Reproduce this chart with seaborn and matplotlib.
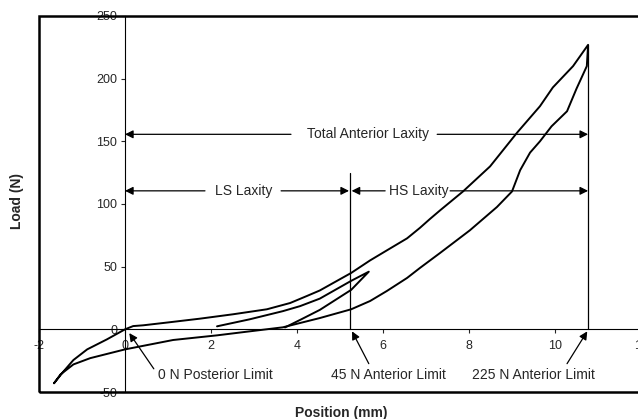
import numpy as np
import pandas as pd
import matplotlib
matplotlib.use('Agg')
import matplotlib.pyplot as plt
import seaborn as sns
from matplotlib.patches import Rectangle

# main hysteresis loop: loading branch (tip -> peak)
load_x = [-1.65, -1.44, -1.2, -0.88, -0.42, 0.0, 0.19, 0.42, 1.0, 1.74, 2.51, 3.3,
          3.84, 4.23, 4.53, 5.26, 5.7, 6.09, 6.56, 6.86, 7.09, 7.33, 7.86, 8.49,
          9.12, 9.65, 9.95, 10.42, 10.77]
load_y = [-43, -34, -24.5, -16, -8, 0, 2.6, 3.2, 5.5, 8.5, 12, 16,
          21, 26.6, 31, 45, 55, 63, 72.6, 81, 88, 95, 110, 130,
          157, 178, 193, 210, 227]

# unloading branch (peak -> tip)
unload_x = [10.77, 10.74, 10.5, 10.28, 9.92, 9.65, 9.42, 9.19, 9.0, 8.65, 8.02,
            7.33, 6.86, 6.56, 6.09, 5.7, 5.26, 4.53, 3.67, 2.9, 2.14, 1.12, 0.0,
            -0.81, -1.2, -1.5, -1.65]
unload_y = [227, 210, 192, 174, 162, 150, 141, 127, 110, 97.6, 79,
            61, 49, 41, 30.6, 22.6, 16, 9, 1.6, -1.6, -4.8, -8.5, -16,
            -23, -28, -36, -43]

# small inner loop
inner_x = [2.14, 2.9, 3.67, 4.07, 4.53, 5.26, 5.67, 5.26, 4.53, 4.1, 3.72]
inner_y = [2.4, 8, 14.5, 18.5, 24.5, 38.7, 46, 31.5, 15.5, 8, 1.5]

# annotation values
limit_x = [0.0, 5.23, 10.77]          # 0 N, 45 N, 225 N limits (mm)
limit_labels = ['0 N Posterior Limit', '45 N Anterior Limit', '225 N Anterior Limit']
total_y = 155.6
ls_hs_y = 110.5
x_ticks = [-2, 0, 2, 4, 6, 8, 10, 12]
y_ticks = [-50, 0, 50, 100, 150, 200, 250]

sns.set_style('white')
plt.rcParams['font.family'] = ['Liberation Sans', 'DejaVu Sans']
plt.rcParams['axes.unicode_minus'] = False

fig = plt.figure(figsize=(6.38, 4.19), dpi=100)
ax = fig.add_axes([39 / 638, 27 / 419, 602 / 638, 376 / 419])

main = pd.DataFrame({'x': load_x + unload_x[1:], 'y': load_y + unload_y[1:]})
inner = pd.DataFrame({'x': inner_x, 'y': inner_y})
sns.lineplot(data=main, x='x', y='y', sort=False, estimator=None, color='k', lw=1.4, ax=ax)
sns.lineplot(data=inner, x='x', y='y', sort=False, estimator=None, color='k', lw=1.4, ax=ax)

ax.set_xlim(-2, 12)
ax.set_ylim(-50, 250)
ax.set_xticks(x_ticks)
ax.set_yticks(y_ticks)
ax.set_xlabel('')
ax.set_ylabel('')

# axes crossing at zero
for s in ['top', 'right']:
    ax.spines[s].set_visible(False)
ax.spines['left'].set_position(('data', 0))
ax.spines['bottom'].set_position(('data', 0))
for s in ['left', 'bottom']:
    ax.spines[s].set_linewidth(0.8)
    ax.spines[s].set_color('k')
ax.tick_params(axis='y', direction='out', length=3, width=0.8, pad=2.5, labelsize=9, left=True)
ax.tick_params(axis='x', direction='out', length=3, width=0.8, pad=4.5, labelsize=9, bottom=True)

# outer frame
ax.add_patch(Rectangle((0, 0), 1, 1, transform=ax.transAxes, fill=False,
                       lw=1.8, ec='k', clip_on=False, zorder=5))

# vertical limit lines
ax.plot([limit_x[1], limit_x[1]], [0, 125], color='k', lw=0.9)
ax.plot([limit_x[2], limit_x[2]], [0, 227], color='k', lw=0.9)

arrow = dict(arrowstyle='-|>', color='k', lw=0.9, mutation_scale=12, shrinkA=0, shrinkB=0)

def dim_arrow(x_from, x_to, y):
    ax.annotate('', xy=(x_to, y), xytext=(x_from, y), arrowprops=arrow)

# Total anterior laxity
dim_arrow(3.86, limit_x[0], total_y)
dim_arrow(7.26, limit_x[2], total_y)
ax.text(5.66, total_y, 'Total Anterior Laxity', ha='center', va='center', fontsize=10)

# LS laxity
dim_arrow(1.86, limit_x[0], ls_hs_y)
dim_arrow(3.63, limit_x[1] - 0.02, ls_hs_y)
ax.text(2.77, ls_hs_y, 'LS Laxity', ha='center', va='center', fontsize=10)

# HS laxity
dim_arrow(6.05, limit_x[1] + 0.04, ls_hs_y)
dim_arrow(7.56, limit_x[2], ls_hs_y)
ax.text(6.84, ls_hs_y, 'HS Laxity', ha='center', va='center', fontsize=10)

# limit callouts
ax.annotate('', xy=(0.1, -3), xytext=(0.67, -31.5), arrowprops=arrow)
ax.text(0.77, -36.3, limit_labels[0], ha='left', va='center', fontsize=10)
ax.annotate('', xy=(5.28, -1.6), xytext=(5.67, -27.4), arrowprops=arrow)
ax.text(6.12, -36.3, limit_labels[1], ha='center', va='center', fontsize=10)
ax.annotate('', xy=(10.75, -1.6), xytext=(10.28, -27.4), arrowprops=arrow)
ax.text(9.49, -36.3, limit_labels[2], ha='center', va='center', fontsize=10)

fig.text(17 / 638, 1 - 201 / 419, 'Load (N)', rotation=90, ha='center', va='center',
         fontsize=10, fontweight='bold')
fig.text(341 / 638, 1 - 413 / 419, 'Position (mm)', ha='center', va='center',
         fontsize=10, fontweight='bold')

fig.savefig('out.png', dpi=100)
